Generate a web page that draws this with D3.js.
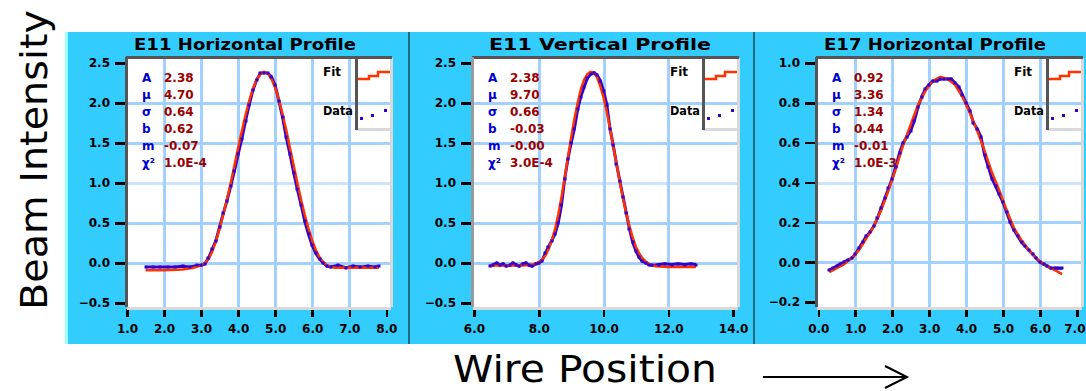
<!DOCTYPE html>
<html>
<head>
<meta charset="utf-8">
<script src="https://cdn.jsdelivr.net/npm/d3@7"></script>
<style>
  html, body { margin: 0; padding: 0; background: #fff; }
  svg { display: block; }
</style>
</head>
<body>
<div id="chart"></div>
<script>
// Panel titles
const titles = ['E11 Horizontal Profile', 'E11 Vertical Profile', 'E17 Horizontal Profile'];

// Tick values
const p1XTicks = [1, 2, 3, 4, 5, 6, 7, 8];
const p2XTicks = [6, 8, 10, 12, 14];
const p3XTicks = [0, 1, 2, 3, 4, 5, 6, 7];
const e11YTicks = [2.5, 2.0, 1.5, 1.0, 0.5, 0.0, -0.5];
const e17YTicks = [1.0, 0.8, 0.6, 0.4, 0.2, 0.0, -0.2];

// Fit parameters box
const statLabels = ['A', 'μ', 'σ', 'b', 'm', 'χ²'];
const p1Stats = ['2.38', '4.70', '0.64', '0.62', '-0.07', '1.0E-4'];
const p2Stats = ['2.38', '9.70', '0.66', '-0.03', '-0.00', '3.0E-4'];
const p3Stats = ['0.92', '3.36', '1.34', '0.44', '-0.01', '1.0E-3'];

// E11 horizontal: measured data and fit [position, intensity]
const p1Data = [
  [1.5, -0.05], [1.7, -0.05], [1.9, -0.05], [2.1, -0.05], [2.3, -0.05], [2.5, -0.04],
  [2.7, -0.05], [2.9, -0.03], [3.0, -0.03], [3.1, -0.01], [3.2, 0.06], [3.3, 0.17],
  [3.4, 0.28], [3.5, 0.45], [3.6, 0.62], [3.7, 0.78], [3.8, 0.96], [3.9, 1.15],
  [4.0, 1.36], [4.1, 1.55], [4.2, 1.78], [4.3, 1.98], [4.4, 2.16], [4.5, 2.29],
  [4.6, 2.37], [4.7, 2.38], [4.8, 2.37], [4.9, 2.33], [5.0, 2.22], [5.1, 2.03],
  [5.2, 1.82], [5.3, 1.57], [5.4, 1.36], [5.5, 1.13], [5.6, 0.92], [5.7, 0.73],
  [5.8, 0.52], [5.9, 0.36], [6.0, 0.22], [6.1, 0.12], [6.2, 0.05], [6.3, 0.0],
  [6.4, -0.04], [6.5, -0.05], [6.7, -0.03], [6.9, -0.06], [7.1, -0.04], [7.3, -0.05],
  [7.5, -0.04], [7.7, -0.05], [7.8, -0.04]
];
const p1Fit = [
  [1.5, -0.09], [2.0, -0.09], [2.5, -0.08], [2.8, -0.06], [3.0, -0.03], [3.1, 0.0],
  [3.2, 0.05], [3.3, 0.14], [3.4, 0.27], [3.5, 0.43], [3.6, 0.61], [3.7, 0.80],
  [3.8, 1.00], [3.9, 1.22], [4.0, 1.44], [4.1, 1.65], [4.2, 1.85], [4.3, 2.03],
  [4.4, 2.18], [4.5, 2.29], [4.6, 2.36], [4.7, 2.39], [4.8, 2.37], [4.9, 2.30],
  [5.0, 2.19], [5.1, 2.04], [5.2, 1.86], [5.3, 1.66], [5.4, 1.44], [5.5, 1.22],
  [5.6, 1.00], [5.7, 0.79], [5.8, 0.60], [5.9, 0.43], [6.0, 0.28], [6.1, 0.16],
  [6.2, 0.07], [6.3, 0.01], [6.4, -0.03], [6.6, -0.06], [7.0, -0.06], [7.5, -0.06],
  [7.8, -0.06]
];

// E11 vertical
const p2Data = [
  [6.5, -0.04], [6.6, -0.02], [6.7, 0.0], [6.8, -0.03], [6.9, -0.01], [7.0, -0.04],
  [7.1, -0.03], [7.2, 0.0], [7.3, -0.02], [7.4, -0.04], [7.5, -0.01], [7.6, 0.0],
  [7.7, -0.03], [7.8, -0.04], [7.9, -0.01], [8.0, 0.0], [8.1, 0.03], [8.2, 0.12],
  [8.3, 0.20], [8.4, 0.28], [8.5, 0.36], [8.6, 0.50], [8.7, 0.72], [8.8, 1.05],
  [8.9, 1.30], [9.0, 1.50], [9.1, 1.68], [9.2, 1.92], [9.3, 2.08], [9.4, 2.20],
  [9.5, 2.31], [9.6, 2.36], [9.7, 2.38], [9.8, 2.35], [9.9, 2.28], [10.0, 2.15],
  [10.1, 1.98], [10.2, 1.68], [10.3, 1.47], [10.4, 1.24], [10.5, 1.03], [10.6, 0.83],
  [10.7, 0.63], [10.8, 0.43], [10.9, 0.26], [11.0, 0.15], [11.1, 0.07], [11.2, 0.02],
  [11.3, 0.0], [11.4, -0.02], [11.5, -0.03], [11.7, -0.02], [11.9, -0.01], [12.1, -0.02],
  [12.3, -0.01], [12.5, -0.02], [12.7, -0.01], [12.85, -0.02]
];
const p2Fit = [
  [6.5, -0.03], [7.0, -0.03], [7.5, -0.03], [7.8, -0.02], [8.0, 0.01], [8.1, 0.04],
  [8.2, 0.09], [8.3, 0.17], [8.4, 0.28], [8.5, 0.42], [8.6, 0.60], [8.7, 0.82],
  [8.8, 1.06], [8.9, 1.32], [9.0, 1.57], [9.1, 1.80], [9.2, 2.00], [9.3, 2.17],
  [9.4, 2.29], [9.5, 2.36], [9.6, 2.39], [9.7, 2.38], [9.8, 2.32], [9.9, 2.21],
  [10.0, 2.07], [10.1, 1.89], [10.2, 1.68], [10.3, 1.46], [10.4, 1.24], [10.5, 1.02],
  [10.6, 0.81], [10.7, 0.62], [10.8, 0.46], [10.9, 0.32], [11.0, 0.20], [11.1, 0.12],
  [11.2, 0.06], [11.3, 0.02], [11.4, -0.01], [11.6, -0.04], [12.0, -0.05], [12.5, -0.05],
  [12.85, -0.05]
];

// E17 horizontal
const p3Data = [
  [0.3, -0.04], [0.4, -0.03], [0.5, -0.02], [0.6, -0.01], [0.7, 0.0], [0.8, 0.01],
  [0.9, 0.02], [1.0, 0.04], [1.1, 0.07], [1.2, 0.10], [1.3, 0.13], [1.4, 0.15],
  [1.5, 0.18], [1.6, 0.22], [1.7, 0.27], [1.8, 0.32], [1.9, 0.37], [2.0, 0.42],
  [2.1, 0.48], [2.2, 0.55], [2.3, 0.60], [2.4, 0.63], [2.5, 0.66], [2.6, 0.71],
  [2.7, 0.78], [2.8, 0.83], [2.9, 0.87], [3.0, 0.89], [3.1, 0.91], [3.2, 0.91],
  [3.3, 0.92], [3.4, 0.92], [3.5, 0.92], [3.6, 0.92], [3.7, 0.90], [3.8, 0.88],
  [3.9, 0.84], [4.0, 0.80], [4.1, 0.76], [4.2, 0.70], [4.3, 0.67], [4.4, 0.63],
  [4.5, 0.54], [4.6, 0.48], [4.7, 0.42], [4.8, 0.38], [4.9, 0.34], [5.0, 0.30],
  [5.1, 0.25], [5.2, 0.20], [5.3, 0.16], [5.4, 0.13], [5.5, 0.10], [5.6, 0.08],
  [5.7, 0.06], [5.8, 0.04], [5.9, 0.02], [6.0, 0.0], [6.1, -0.01], [6.2, -0.02],
  [6.3, -0.03], [6.4, -0.03], [6.5, -0.03], [6.6, -0.03]
];
const p3Fit = [
  [0.3, -0.05], [0.5, -0.03], [0.7, -0.01], [0.9, 0.02], [1.1, 0.06], [1.3, 0.12],
  [1.5, 0.18], [1.7, 0.26], [1.9, 0.36], [2.1, 0.47], [2.3, 0.59], [2.5, 0.69],
  [2.7, 0.79], [2.9, 0.86], [3.1, 0.91], [3.3, 0.93], [3.5, 0.92], [3.7, 0.89],
  [3.9, 0.83], [4.1, 0.75], [4.3, 0.66], [4.5, 0.56], [4.7, 0.45], [4.9, 0.36],
  [5.1, 0.26], [5.3, 0.17], [5.5, 0.11], [5.7, 0.06], [5.9, 0.02], [6.1, -0.01],
  [6.3, -0.03], [6.5, -0.05], [6.6, -0.06]
];

// Layout of the three panels (pixel boxes of the plot areas)
const panels = [
  { title: titles[0], data: p1Data, fit: p1Fit, stats: p1Stats,
    xTicks: p1XTicks, yTicks: e11YTicks, xDom: [1.0, 8.1], yDom: [-0.55, 2.5625],
    l: 127, r: 390, t: 58, b: 307, titleX: 245, leftColor: '#555' },
  { title: titles[1], data: p2Data, fit: p2Fit, stats: p2Stats,
    xTicks: p2XTicks, yTicks: e11YTicks, xDom: [5.97, 14.12], yDom: [-0.55, 2.5625],
    l: 473, r: 737, t: 58, b: 307, titleX: 600, leftColor: '#9a9a9a' },
  { title: titles[2], data: p3Data, fit: p3Fit, stats: p3Stats,
    xTicks: p3XTicks, yTicks: e17YTicks, xDom: [-0.035, 7.11], yDom: [-0.225, 1.025],
    l: 817, r: 1081, t: 58, b: 307, titleX: 935, leftColor: '#555' }
];

const W = 1086, H = 391;
const svg = d3.select('#chart').append('svg').attr('width', W).attr('height', H);

// cyan backdrop
svg.append('rect').attr('x', 65).attr('y', 32).attr('width', W - 65).attr('height', 312).attr('fill', '#33ccff');
svg.append('rect').attr('x', 65).attr('y', 32).attr('width', 3).attr('height', 312).attr('fill', '#99ffff');
[409, 754].forEach(x => {
  svg.append('rect').attr('x', x - 1).attr('y', 32).attr('width', 2).attr('height', 312).attr('fill', '#1f6b80');
});

const fmt = d3.format('.1f');

panels.forEach(p => {
  const x = d3.scaleLinear().domain(p.xDom).range([p.l, p.r]);
  const y = d3.scaleLinear().domain(p.yDom).range([p.b, p.t]);
  const g = svg.append('g');

  // title
  g.append('text')
    .attr('x', p.titleX).attr('y', 50)
    .attr('text-anchor', 'middle')
    .attr('font-family', 'DejaVu Sans')
    .attr('font-weight', 'bold')
    .attr('font-size', 15)
    .attr('textLength', 222).attr('lengthAdjust', 'spacingAndGlyphs')
    .attr('fill', '#000')
    .text(p.title);

  // plot background
  g.append('rect').attr('x', p.l).attr('y', p.t).attr('width', p.r - p.l).attr('height', p.b - p.t).attr('fill', '#fff');

  // grid
  const grid = g.append('g').attr('shape-rendering', 'crispEdges');
  grid.selectAll('.hg').data(p.yTicks.filter(v => y(v) > p.t + 8 && y(v) < p.b - 8))
    .enter().append('line')
    .attr('x1', p.l).attr('x2', p.r)
    .attr('y1', d => Math.round(y(d))).attr('y2', d => Math.round(y(d)))
    .attr('stroke', (d, i) => i === 2 ? '#cce5ff' : '#a3d1ff')
    .attr('stroke-width', 3);
  grid.selectAll('.vg').data(p.xTicks.filter(v => x(v) > p.l + 8 && x(v) < p.r - 8))
    .enter().append('line')
    .attr('y1', p.t).attr('y2', p.b)
    .attr('x1', d => Math.round(x(d))).attr('x2', d => Math.round(x(d)))
    .attr('stroke', '#a3d1ff')
    .attr('stroke-width', 3);

  // axes
  const yAxis = g.append('g')
    .attr('transform', `translate(${p.l - 2},0)`)
    .call(d3.axisLeft(y).tickValues(p.yTicks).tickFormat(fmt).tickSize(10).tickPadding(5));
  const xAxis = g.append('g')
    .attr('transform', `translate(0,${p.b + 2})`)
    .call(d3.axisBottom(x).tickValues(p.xTicks).tickFormat(fmt).tickSize(8).tickPadding(7));
  [yAxis, xAxis].forEach(a => {
    a.select('.domain').remove();
    a.selectAll('line').attr('stroke', '#000').attr('stroke-width', 2.5).attr('shape-rendering', 'crispEdges');
    a.selectAll('text')
      .attr('fill', '#000')
      .attr('font-family', 'DejaVu Sans')
      .attr('font-weight', 'bold')
      .attr('font-size', 12);
  });
  // keep a label that would run past the page edge inside it
  xAxis.selectAll('.tick text').each(function (d) {
    if (x(d) + 14 > W) d3.select(this).attr('text-anchor', 'end').attr('x', W - 1 - x(d));
  });

  // plot frame
  const frame = g.append('g').attr('shape-rendering', 'crispEdges');
  frame.append('line').attr('x1', p.l).attr('x2', p.r + 1).attr('y1', p.b + 1).attr('y2', p.b + 1)
    .attr('stroke', '#d9d9d9').attr('stroke-width', 3);
  frame.append('line').attr('x1', p.r + 1).attr('x2', p.r + 1).attr('y1', p.t).attr('y2', p.b)
    .attr('stroke', '#d9d9d9').attr('stroke-width', 3);
  frame.append('line').attr('x1', p.l - 1).attr('x2', p.r + 2).attr('y1', p.t - 1).attr('y2', p.t - 1)
    .attr('stroke', '#555').attr('stroke-width', 3);
  frame.append('line').attr('x1', p.l - 1).attr('x2', p.l - 1).attr('y1', p.t - 1).attr('y2', p.b)
    .attr('stroke', p.leftColor).attr('stroke-width', 3);

  // fit parameter text
  const st = g.append('g')
    .attr('font-family', 'DejaVu Sans')
    .attr('font-weight', 'bold')
    .attr('font-size', 12);
  st.selectAll('.sl').data(statLabels).enter().append('text')
    .attr('x', p.l + 15).attr('y', (d, i) => p.t + 24 + i * 17)
    .attr('fill', '#0000cc')
    .text(d => d);
  st.selectAll('.sv').data(p.stats).enter().append('text')
    .attr('x', p.l + 37).attr('y', (d, i) => p.t + 24 + i * 17)
    .attr('fill', '#990000')
    .text(d => d);

  // legend inset
  const lx = p.r - 34;
  const leg = g.append('g');
  leg.append('line').attr('x1', lx).attr('x2', p.r).attr('y1', p.t + 71).attr('y2', p.t + 71)
    .attr('stroke', '#d9d9d9').attr('stroke-width', 3).attr('shape-rendering', 'crispEdges');
  leg.append('line').attr('x1', lx).attr('x2', lx).attr('y1', p.t).attr('y2', p.t + 72)
    .attr('stroke', '#555').attr('stroke-width', 3).attr('shape-rendering', 'crispEdges');
  leg.append('polyline')
    .attr('points', [[lx + 2, p.t + 21], [lx + 13, p.t + 21], [lx + 13, p.t + 18], [lx + 22, p.t + 18],
                     [lx + 22, p.t + 14], [lx + 34, p.t + 14]].map(d => d.join(',')).join(' '))
    .attr('fill', 'none').attr('stroke', '#ff3300').attr('stroke-width', 2.5);
  [[lx + 4, p.t + 59], [lx + 15, p.t + 56], [lx + 28, p.t + 51]].forEach(d => {
    leg.append('rect').attr('x', d[0]).attr('y', d[1]).attr('width', 3).attr('height', 3).attr('fill', '#3300cc');
  });
  leg.append('text').attr('x', lx - 33).attr('y', p.t + 18)
    .attr('font-family', 'DejaVu Sans').attr('font-weight', 'bold').attr('font-size', 12)
    .text('Fit');
  leg.append('text').attr('x', lx - 33).attr('y', p.t + 57)
    .attr('font-family', 'DejaVu Sans').attr('font-weight', 'bold').attr('font-size', 12)
    .attr('textLength', 30).attr('lengthAdjust', 'spacingAndGlyphs')
    .text('Data');

  // curves
  const line = d3.line().x(d => x(d[0])).y(d => y(d[1]));
  g.append('path').datum(p.data).attr('d', line)
    .attr('fill', 'none').attr('stroke', '#3300cc').attr('stroke-width', 3);
  g.append('path').datum(p.fit).attr('d', line)
    .attr('fill', 'none').attr('stroke', '#ff3300').attr('stroke-width', 2.5);
  g.selectAll('.pt').data(p.data).enter().append('rect')
    .attr('x', d => Math.round(x(d[0])) - 1.5).attr('y', d => Math.round(y(d[1])) - 1.5)
    .attr('width', 3).attr('height', 3)
    .attr('fill', '#3300cc');
});

// outer axis captions
svg.append('text')
  .attr('transform', 'translate(47,160) rotate(-90)')
  .attr('text-anchor', 'middle')
  .attr('font-family', 'DejaVu Sans')
  .attr('font-size', 38)
  .attr('textLength', 300).attr('lengthAdjust', 'spacingAndGlyphs')
  .attr('fill', '#000')
  .text('Beam Intensity');

svg.append('text')
  .attr('x', 453).attr('y', 382)
  .attr('font-family', 'DejaVu Sans')
  .attr('font-size', 38)
  .attr('textLength', 264).attr('lengthAdjust', 'spacingAndGlyphs')
  .attr('fill', '#000')
  .text('Wire Position');

svg.append('line').attr('x1', 763).attr('x2', 906).attr('y1', 377).attr('y2', 377)
  .attr('stroke', '#000').attr('stroke-width', 2);
svg.append('polyline').attr('points', '885,366 907,377 885,388')
  .attr('fill', 'none').attr('stroke', '#000').attr('stroke-width', 2);
</script>
</body>
</html>
